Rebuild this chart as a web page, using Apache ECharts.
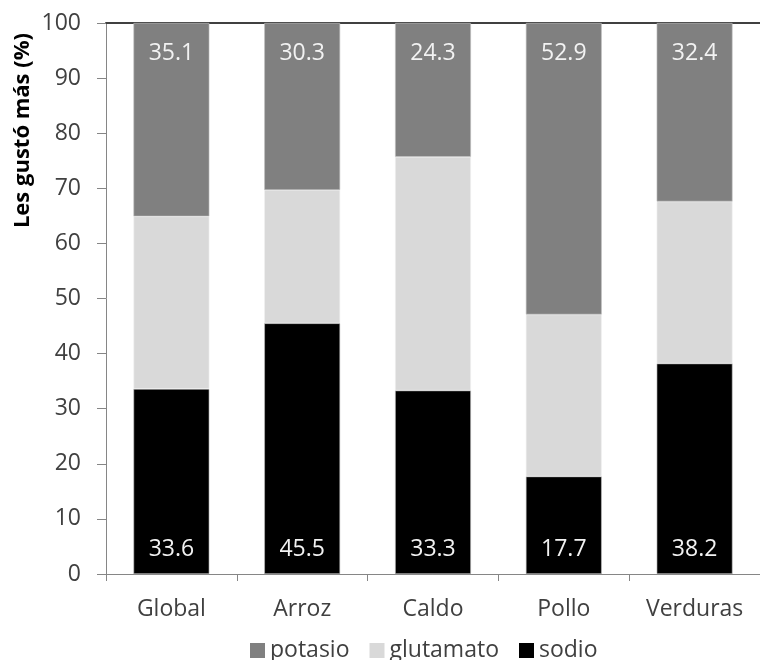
<!DOCTYPE html>
<html><head><meta charset="utf-8">
<script src="https://cdn.jsdelivr.net/npm/echarts@6/dist/echarts.min.js"></script>
<style>html,body{margin:0;padding:0;background:#fff}#c{width:760px;height:660px}</style>
</head><body><div id="c"></div>
<script>
var categories = ['Global','Arroz','Caldo','Pollo','Verduras'];
var sodio = [33.6, 45.5, 33.3, 17.7, 38.2];
var glutamato = [31.3, 24.2, 42.4, 29.4, 29.4];
var potasio = [35.1, 30.3, 24.3, 52.9, 32.4];
var yTicks = [0,10,20,30,40,50,60,70,80,90,100];

var FONT = '"Open Sans", "Noto Sans", sans-serif';
var chart = echarts.init(document.getElementById('c'), null, {renderer:'canvas'});
chart.setOption({
  animation:false,
  textStyle:{fontFamily:FONT},
  grid:{left:106, right:-12, top:23, bottom:86},
  legend:{
    data:['potasio','glutamato','sodio'], left:245, top:634,
    itemWidth:15, itemHeight:15, itemGap:20, icon:'rect',
    itemStyle:{borderWidth:0},
    textStyle:{fontFamily:FONT, fontSize:23, color:'#404040', padding:[0,0,0,0]}
  },
  graphic:[{
    type:'text', left:12, top:33, rotation:Math.PI/2,
    style:{text:'Les gustó más (%)', font:'bold 22px "Open Sans", sans-serif', fill:'#000'}
  }],
  xAxis:[{
    type:'category', data:categories,
    axisLine:{lineStyle:{color:'#868686', width:1}},
    axisTick:{show:true, length:7, lineStyle:{color:'#868686'}},
    axisLabel:{fontFamily:FONT, fontSize:23, color:'#404040', margin:24}
  },{
    type:'category', data:categories, position:'top',
    axisLine:{show:true, lineStyle:{color:'#404040', width:2}},
    axisTick:{show:false}, axisLabel:{show:false}
  }],
  yAxis:{
    type:'value', min:0, max:100, interval:10,
    axisLine:{show:true, lineStyle:{color:'#868686'}},
    axisTick:{show:true, length:9, lineStyle:{color:'#868686'}},
    splitLine:{show:false},
    axisLabel:{fontFamily:FONT, fontSize:23, color:'#404040', margin:25,
      formatter:function(v){return yTicks.indexOf(v)>=0?String(v):'';}}
  },
  series:[
    {name:'sodio', type:'bar', stack:'s', data:sodio, barWidth:'58%',
     itemStyle:{color:'#000000', borderColor:'#bfbfbf', borderWidth:0.6},
     label:{show:true, position:'insideBottom', distance:13, color:'#f2f2f2', fontSize:23, fontFamily:FONT,
       formatter:function(p){return p.value.toFixed(1);}}},
    {name:'glutamato', type:'bar', stack:'s', data:glutamato,
     itemStyle:{color:'#d9d9d9', borderColor:'#f0f0f0', borderWidth:0.6}},
    {name:'potasio', type:'bar', stack:'s', data:potasio,
     itemStyle:{color:'#808080', borderColor:'#bfbfbf', borderWidth:0.6},
     label:{show:true, position:'insideTop', distance:19, color:'#f2f2f2', fontSize:23, fontFamily:FONT,
       formatter:function(p){return p.value.toFixed(1);}}}
  ]
});
</script></body></html>
